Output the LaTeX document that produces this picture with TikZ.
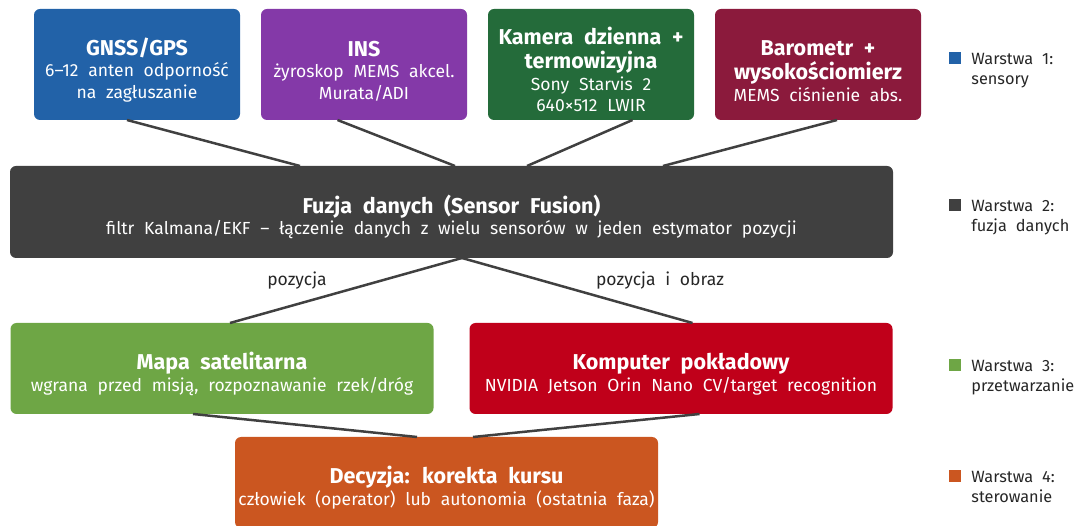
\documentclass[tikz,border=0pt]{standalone}
\usepackage{fontspec}
\setmainfont{Fira Sans}[WordSpace=2.1]
\usepackage{xcolor}
\usepackage{tikz}
\usetikzlibrary{shapes,arrows,positioning}
\usetikzlibrary{calc}
\definecolor{gnssblue}{HTML}{2262A8}
\definecolor{inspurple}{HTML}{8439A8}
\definecolor{camgreen}{HTML}{246B3A}
\definecolor{barored}{HTML}{8B1A3C}
\definecolor{fusegray}{HTML}{404040}
\definecolor{mapgreen}{HTML}{6EA645}
\definecolor{comprred}{HTML}{C0001A}
\definecolor{decorange}{HTML}{CB5620}
\newcommand{\boxtitle}{\fontsize{21.5}{24}\selectfont\bfseries}
\newcommand{\topgap}{\rule{0pt}{28pt}}
\tikzstyle{block} = [rectangle, fill=white, text=white, align=center,
    rounded corners=6pt, inner sep=0pt, outer sep=0pt,
    font=\fontsize{17.5}{21.5}\selectfont]
\tikzstyle{line} = [draw=fusegray, line width=2.5pt]

\begin{document}
\begin{tikzpicture}[x=1pt, y=-1pt, node distance=21pt]
    % Style definitions
    \tikzstyle{sensor} = [block, minimum width=206pt, minimum height=111pt]
    \tikzstyle{wide} = [block, minimum width=423pt, minimum height=91pt]
    \tikzstyle{legsq} = [rectangle, minimum size=12pt, inner sep=0pt]
    \tikzstyle{legtxt} = [anchor=north west, inner sep=0pt, align=left,
        text=black!85, font=\fontsize{16.3}{20}\selectfont]
    \tikzstyle{edgelbl} = [text=black!85, font=\fontsize{17.5}{18}\selectfont]
    \useasboundingbox (0,0) rectangle (1074,526);

    % Sensor nodes
    \node [sensor, fill=gnssblue] (gnss) at (137,64.5)
        {\topgap{\boxtitle GNSS/GPS}\\6–12 anten odporność\\na zagłuszanie};
    \node [sensor, fill=inspurple, right=of gnss] (ins)
        {\topgap{\boxtitle INS}\\żyroskop MEMS akcel.\\Murata/ADI};
    \node [sensor, fill=camgreen, right=of ins] (cam)
        {\topgap{\boxtitle Kamera dzienna +}\\[2.5pt]{\boxtitle termowizyjna}\\Sony Starvis 2\\640×512 LWIR};
    \node [sensor, fill=barored, right=of cam] (baro)
        {\topgap{\boxtitle Barometr +}\\[2.5pt]{\boxtitle wysokościomierz}\\MEMS ciśnienie abs.};

    % Fusion node
    \node [block, fill=fusegray, minimum width=883pt, minimum height=92pt] (fusion) at (451.5,212)
        {\topgap{\boxtitle Fuzja danych (Sensor Fusion)}\\filtr Kalmana/EKF – łączenie danych z wielu sensorów w jeden estymator pozycji};

    % Processing nodes
    \node [wide, fill=mapgreen] (map) at (222,368.5)
        {\topgap{\boxtitle Mapa satelitarna}\\wgrana przed misją, rozpoznawanie rzek/dróg};
    \node [wide, fill=comprred, right=36pt of map] (comp)
        {\topgap{\boxtitle Komputer pokładowy}\\NVIDIA Jetson Orin Nano CV/target recognition};

    % Decision node
    \node [wide, fill=decorange] (dec) at (446.5,482.5)
        {\topgap{\boxtitle Decyzja: korekta kursu}\\człowiek (operator) lub autonomia (ostatnia faza)};

    % Connections
    \path [line] ([xshift=-10pt]gnss.south) -- ([xshift=-151.5pt]fusion.north);
    \path [line] ([xshift=-26.5pt]ins.south) -- ([xshift=3.5pt]fusion.north);
    \path [line] ([xshift=41.5pt]cam.south) -- ([xshift=75.5pt]fusion.north);
    \path [line] ([xshift=19pt]baro.south) -- ([xshift=211.5pt]fusion.north);
    \path [line] ([xshift=10.5pt]fusion.south) -- ([xshift=8pt]map.north);
    \path [line] ([xshift=10.5pt]fusion.south) -- ([xshift=11.5pt]comp.north);
    \path [line] ([xshift=-29pt]map.south) -- ([xshift=-29.5pt]dec.north);
    \path [line] ([xshift=18.5pt]comp.south) -- ([xshift=26.5pt]dec.north);

    % Edge labels
    \node [edgelbl] (lpos) at (297,281) {pozycja};
    \node [edgelbl] (lposimg) at (660,281) {pozycja i obraz};

    % Legend
    \node [legsq, fill=gnssblue] (leg1) at (955,58) {};
    \node [legsq, fill=fusegray] (leg2) at (955,205) {};
    \node [legsq, fill=mapgreen] (leg3) at (955,365) {};
    \node [legsq, fill=decorange] (leg4) at (955,476) {};
    \node [legtxt] (leg1txt) at ([xshift=10pt,yshift=-1pt]leg1.north east) {Warstwa 1:\\sensory};
    \node [legtxt] (leg2txt) at ([xshift=10pt,yshift=-1pt]leg2.north east) {Warstwa 2:\\fuzja danych};
    \node [legtxt] (leg3txt) at ([xshift=10pt,yshift=-1pt]leg3.north east) {Warstwa 3:\\przetwarzanie};
    \node [legtxt] (leg4txt) at ([xshift=10pt,yshift=-1pt]leg4.north east) {Warstwa 4:\\sterowanie};
\end{tikzpicture}
\end{document}
